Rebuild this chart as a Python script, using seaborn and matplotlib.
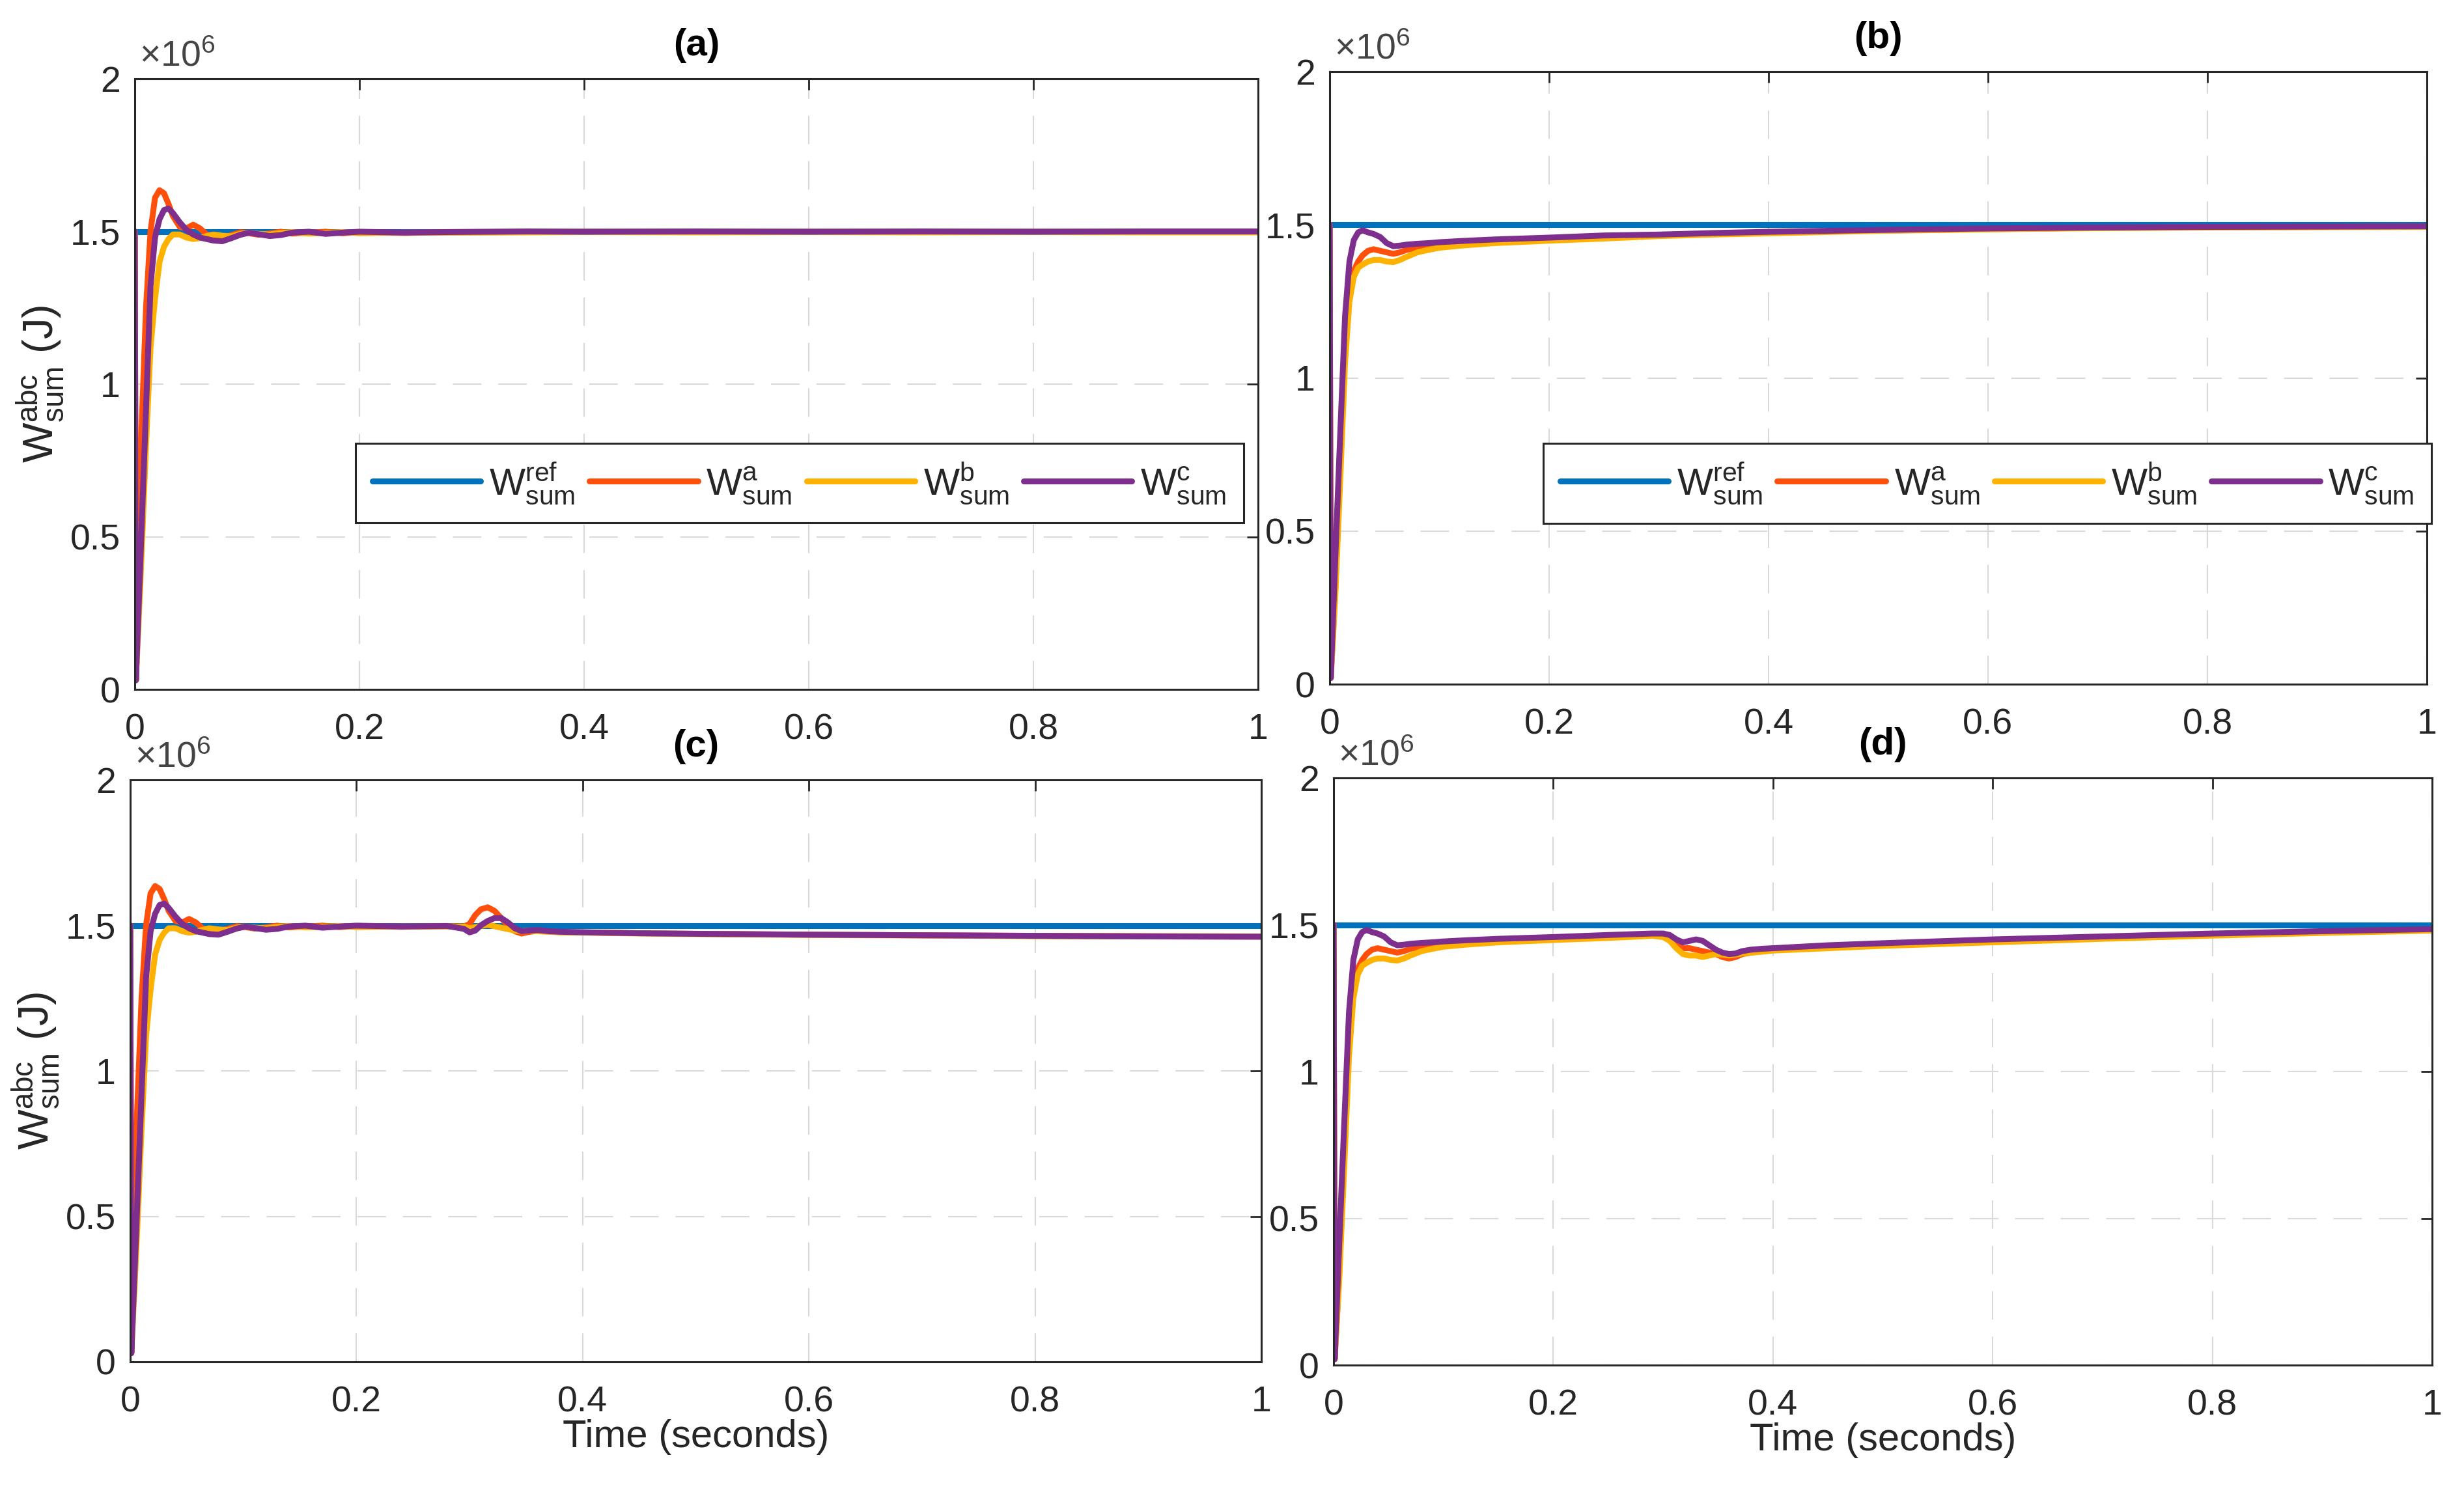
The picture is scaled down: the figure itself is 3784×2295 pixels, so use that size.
import pandas as pd
import seaborn as sns
import matplotlib.pyplot as plt

sns.set_theme(style="white")
plt.rcParams["font.family"] = ["Liberation Sans", "DejaVu Sans"]
plt.rcParams["mathtext.fontset"] = "custom"
plt.rcParams["mathtext.rm"] = "Liberation Sans"
plt.rcParams["mathtext.default"] = "regular"

# energies in units of 10^6 J

series_names = ["ref", "a", "b", "c"]
series_labels = [r"$W^{ref}_{sum}$", r"$W^{a}_{sum}$", r"$W^{b}_{sum}$", r"$W^{c}_{sum}$"]
series_colors = ["#0072BD", "#FF4F0A", "#FFB100", "#7E2F8E"]

ref_time = [0.0, 1.0]
ref_energy = [1.5, 1.5]

# (a) and (c) share the same start-up
startup_time_ac = [0, 0.001, 0.005, 0.010, 0.014, 0.018, 0.022, 0.026, 0.030, 0.034,
                   0.040, 0.046, 0.052, 0.058, 0.064, 0.070, 0.078, 0.086, 0.094, 0.102,
                   0.110, 0.120, 0.130, 0.140, 0.155, 0.170, 0.185, 0.200, 0.240, 0.280]
startup_wa_ac = [1.50, 0.03, 0.75, 1.25, 1.50, 1.61, 1.635, 1.625, 1.59, 1.55,
                 1.515, 1.51, 1.522, 1.51, 1.49, 1.482, 1.48, 1.488, 1.497, 1.494,
                 1.489, 1.493, 1.499, 1.493, 1.496, 1.499, 1.494, 1.497, 1.495, 1.497]
startup_wb_ac = [1.50, 0.03, 0.35, 0.80, 1.12, 1.28, 1.40, 1.45, 1.475, 1.49,
                 1.49, 1.48, 1.475, 1.478, 1.485, 1.49, 1.486, 1.484, 1.492, 1.496,
                 1.492, 1.49, 1.495, 1.498, 1.493, 1.495, 1.498, 1.494, 1.496, 1.496]
startup_wc_ac = [1.50, 0.03, 0.42, 0.92, 1.32, 1.48, 1.54, 1.57, 1.575, 1.56,
                 1.53, 1.505, 1.49, 1.48, 1.475, 1.47, 1.468, 1.478, 1.489, 1.496,
                 1.491, 1.485, 1.488, 1.496, 1.499, 1.492, 1.496, 1.499, 1.496, 1.498]

tail_time_a = [0.35, 0.40, 0.50, 0.60, 0.70, 0.80, 0.90, 1.00]
tail_wa_a = [1.498, 1.499, 1.498, 1.499, 1.498, 1.499, 1.498, 1.498]
tail_wb_a = [1.497, 1.498, 1.497, 1.498, 1.497, 1.498, 1.497, 1.497]
tail_wc_a = [1.500, 1.499, 1.500, 1.499, 1.500, 1.499, 1.500, 1.500]

# (c): disturbance around t = 0.3 s
tail_time_c = [0.295, 0.300, 0.305, 0.310, 0.316, 0.322, 0.328, 0.334, 0.340, 0.346,
               0.352, 0.360, 0.370, 0.380, 0.400, 0.450, 0.500, 0.600, 0.700, 0.800,
               0.900, 1.000]
tail_wa_c = [1.496, 1.505, 1.535, 1.555, 1.562, 1.55, 1.525, 1.50, 1.48, 1.472,
             1.477, 1.482, 1.479, 1.477, 1.476, 1.473, 1.471, 1.468, 1.466, 1.464,
             1.463, 1.462]
tail_wb_c = [1.496, 1.49, 1.494, 1.498, 1.502, 1.497, 1.492, 1.487, 1.482, 1.48,
             1.482, 1.48, 1.478, 1.476, 1.475, 1.472, 1.47, 1.467, 1.465, 1.463,
             1.462, 1.461]
tail_wc_c = [1.488, 1.476, 1.482, 1.50, 1.515, 1.525, 1.525, 1.51, 1.49, 1.48,
             1.482, 1.484, 1.48, 1.478, 1.476, 1.473, 1.471, 1.468, 1.466, 1.464,
             1.462, 1.461]

# (b) and (d) share the same start-up
startup_time_bd = [0, 0.001, 0.005, 0.010, 0.014, 0.018, 0.022, 0.026, 0.030, 0.035,
                   0.040, 0.046, 0.052, 0.058, 0.064, 0.070, 0.080, 0.090, 0.100, 0.120,
                   0.150, 0.200, 0.250]
startup_wa_bd = [1.50, 0.02, 0.30, 0.75, 1.10, 1.28, 1.35, 1.38, 1.40, 1.415,
                 1.42, 1.415, 1.41, 1.405, 1.41, 1.418, 1.425, 1.43, 1.433, 1.438,
                 1.445, 1.452, 1.46]
startup_wb_bd = [1.50, 0.02, 0.28, 0.70, 1.05, 1.25, 1.33, 1.36, 1.37, 1.38,
                 1.385, 1.385, 1.38, 1.378, 1.385, 1.395, 1.41, 1.418, 1.425, 1.432,
                 1.44, 1.448, 1.455]
startup_wc_bd = [1.50, 0.02, 0.40, 0.85, 1.20, 1.38, 1.45, 1.475, 1.482, 1.475,
                 1.47, 1.46, 1.44, 1.43, 1.432, 1.435, 1.438, 1.44, 1.443, 1.447,
                 1.452, 1.458, 1.465]

tail_time_b = [0.300, 0.350, 0.400, 0.450, 0.500, 0.600, 0.700, 0.800, 0.900, 1.000]
tail_wa_b = [1.465, 1.47, 1.474, 1.478, 1.481, 1.486, 1.49, 1.492, 1.493, 1.494]
tail_wb_b = [1.463, 1.468, 1.472, 1.476, 1.48, 1.485, 1.489, 1.491, 1.492, 1.493]
tail_wc_b = [1.468, 1.473, 1.477, 1.48, 1.483, 1.488, 1.491, 1.493, 1.494, 1.495]

# (d): disturbance around t = 0.3 s
tail_time_d = [0.290, 0.300, 0.306, 0.312, 0.318, 0.324, 0.330, 0.336, 0.342, 0.348,
               0.354, 0.360, 0.366, 0.372, 0.380, 0.390, 0.400, 0.450, 0.500, 0.600,
               0.700, 0.800, 0.900, 1.000]
tail_wa_d = [1.465, 1.462, 1.45, 1.43, 1.42, 1.42, 1.415, 1.41, 1.405, 1.40,
             1.39, 1.385, 1.39, 1.40, 1.405, 1.41, 1.415, 1.425, 1.432, 1.445,
             1.457, 1.467, 1.475, 1.483]
tail_wb_d = [1.462, 1.458, 1.445, 1.42, 1.40, 1.395, 1.395, 1.39, 1.395, 1.40,
             1.398, 1.395, 1.398, 1.402, 1.405, 1.408, 1.412, 1.42, 1.428, 1.44,
             1.452, 1.463, 1.472, 1.48]
tail_wc_d = [1.47, 1.47, 1.465, 1.45, 1.44, 1.445, 1.45, 1.445, 1.43, 1.415,
             1.405, 1.40, 1.402, 1.41, 1.415, 1.418, 1.42, 1.43, 1.437, 1.45,
             1.46, 1.47, 1.478, 1.485]

panel_titles = ["(a)", "(b)", "(c)", "(d)"]
xticks = [0, 0.2, 0.4, 0.6, 0.8, 1]
xtick_labels = ["0", "0.2", "0.4", "0.6", "0.8", "1"]
yticks = [0, 0.5, 1, 1.5, 2]
ytick_labels = ["0", "0.5", "1", "1.5", "2"]


def build_frame(time, wa, wb, wc):
    parts = [pd.DataFrame({"time": ref_time, "energy": ref_energy, "series": "ref"})]
    for name, vals in zip(["a", "b", "c"], [wa, wb, wc]):
        parts.append(pd.DataFrame({"time": time, "energy": vals, "series": name}))
    return pd.concat(parts, ignore_index=True)


frames = [
    build_frame(startup_time_ac + tail_time_a, startup_wa_ac + tail_wa_a,
                startup_wb_ac + tail_wb_a, startup_wc_ac + tail_wc_a),
    build_frame(startup_time_bd + tail_time_b, startup_wa_bd + tail_wa_b,
                startup_wb_bd + tail_wb_b, startup_wc_bd + tail_wc_b),
    build_frame(startup_time_ac + tail_time_c, startup_wa_ac + tail_wa_c,
                startup_wb_ac + tail_wb_c, startup_wc_ac + tail_wc_c),
    build_frame(startup_time_bd + tail_time_d, startup_wa_bd + tail_wa_d,
                startup_wb_bd + tail_wb_d, startup_wc_bd + tail_wc_d),
]

W, H = 3784, 2295
# axes boxes in pixels: left, right, top, bottom
boxes = [(207, 1932, 121, 1059), (2042, 3727, 110, 1051),
         (200, 1937, 1198, 2092), (2048, 3735, 1195, 2097)]
legend_anchor = {0: (0.987, 0.403), 1: (1.004, 0.393)}

fig = plt.figure(figsize=(W / 100, H / 100), dpi=100)
ink = "#262626"

for i, (df, (l, r, t, b)) in enumerate(zip(frames, boxes)):
    ax = fig.add_axes([l / W, (H - b) / H, (r - l) / W, (b - t) / H])
    sns.lineplot(data=df, x="time", y="energy", hue="series", hue_order=series_names,
                 palette=series_colors, estimator=None, sort=False, linewidth=6.5,
                 legend=False, ax=ax)
    ax.set_xlim(0, 1)
    ax.set_ylim(0, 2)
    ax.set_xticks(xticks)
    ax.set_xticklabels(xtick_labels)
    ax.set_yticks(yticks)
    ax.set_yticklabels(ytick_labels)
    ax.grid(True, linestyle=(0, (21, 12.5)), color="#d9d9d9", linewidth=1.5)
    ax.set_axisbelow(True)
    for sp in ax.spines.values():
        sp.set_color(ink)
        sp.set_linewidth(2.2)
    ax.tick_params(axis="both", direction="in", top=True, right=True, length=12,
                   width=2, colors=ink, labelsize=40)
    ax.tick_params(axis="x", pad=26)
    ax.tick_params(axis="y", pad=16)
    ax.set_title(panel_titles[i], fontsize=42, fontweight="bold", pad=26, color="black")
    ax.text(0.004, 1.008, r"$\times10^{6}$", transform=ax.transAxes, fontsize=40,
            color="#444444", ha="left", va="bottom")
    if i in (0, 2):
        ax.set_ylabel(r"$W^{abc}_{sum}$ (J)", fontsize=47, color=ink, labelpad=4)
    else:
        ax.set_ylabel("")
    if i in (2, 3):
        ax.set_xlabel("Time (seconds)", fontsize=43, color=ink, labelpad=0)
    else:
        ax.set_xlabel("")
    if i in legend_anchor:
        leg = ax.legend(ax.lines[:4], series_labels, loc="upper right",
                        bbox_to_anchor=legend_anchor[i], ncol=4, fontsize=42,
                        handlelength=2.85, handletextpad=0.22, columnspacing=0.38,
                        borderaxespad=0, borderpad=0.45, fancybox=False,
                        framealpha=1, edgecolor=ink)
        leg.get_frame().set_linewidth(2.2)

fig.savefig("out.png", dpi=100)
